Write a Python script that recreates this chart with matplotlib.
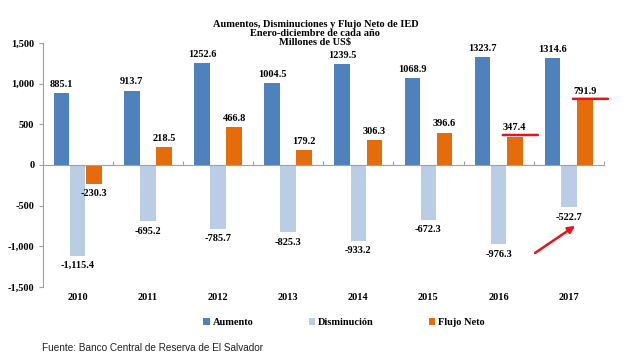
import matplotlib
matplotlib.use("Agg")
import matplotlib.pyplot as plt
import numpy as np

years = ["2010", "2011", "2012", "2013", "2014", "2015", "2016", "2017"]
aumento = [885.1, 913.7, 1252.6, 1004.5, 1239.5, 1068.9, 1323.7, 1314.6]
disminucion = [-1115.4, -695.2, -785.7, -825.3, -933.2, -672.3, -976.3, -522.7]
flujo = [-230.3, 218.5, 466.8, 179.2, 306.3, 396.6, 347.4, 791.9]
aum_labels = ["885.1", "913.7", "1252.6", "1004.5", "1239.5", "1068.9", "1323.7", "1314.6"]
dis_labels = ["-1,115.4", "-695.2", "-785.7", "-825.3", "-933.2", "-672.3", "-976.3", "-522.7"]
flu_labels = ["-230.3", "218.5", "466.8", "179.2", "306.3", "396.6", "347.4", "791.9"]
yticks = [-1500, -1000, -500, 0, 500, 1000, 1500]
ytick_labels = ["-1,500", "-1,000", "-500", "0", "500", "1,000", "1,500"]
highlight = ["2016", "2017"]

c_aum = "#4F81BD"
c_dis = "#B9CDE5"
c_flu = "#E46C0A"
serif = ["Liberation Serif", "DejaVu Serif"]

fig = plt.figure(figsize=(6.27, 3.6), dpi=100)
ax = fig.add_axes([0.068, 0.203, 0.895, 0.678])

x = np.arange(len(years))
w = 0.222
gap = 0.008
xa = x - (w + gap)
xd = x
xf = x + (w + gap)
ax.bar(xa, aumento, w, color=c_aum, label="Aumento")
ax.bar(xd, disminucion, w, color=c_dis, label="Disminución")
ax.bar(xf, flujo, w, color=c_flu, label="Flujo Neto")

ax.set_xlim(-0.5, len(years) - 0.5)
ax.set_ylim(-1500, 1500)
ax.set_yticks(yticks)
ax.set_yticklabels(ytick_labels, fontfamily=serif, fontweight="bold", fontsize=7.5)
ax.tick_params(axis="y", length=3, color="#A0A0A0", pad=3)

for s in ["top", "right"]:
    ax.spines[s].set_visible(False)
ax.spines["left"].set_color("#A0A0A0")
ax.spines["bottom"].set_position(("data", 0))
ax.spines["bottom"].set_color("#A0A0A0")
ax.set_xticks(np.arange(len(years) + 1) - 0.5)
ax.set_xticklabels([])
ax.tick_params(axis="x", direction="in", length=3, color="#A0A0A0")

xtr = ax.get_xaxis_transform()
for xi, yl in zip(x, years):
    ax.text(xi, -0.045, yl, transform=xtr, ha="center", va="center",
            fontfamily=serif, fontweight="bold", fontsize=7.5)

lab_kw = dict(fontfamily=serif, fontweight="bold", fontsize=7.5, ha="center")
for xi, v, l in zip(xa, aumento, aum_labels):
    ax.annotate(l, (xi, v), xytext=(0, 3), textcoords="offset points", va="bottom", **lab_kw)
for xi, v, l in zip(xd, disminucion, dis_labels):
    ax.annotate(l, (xi, v), xytext=(0, -4), textcoords="offset points", va="top", **lab_kw)
for xi, v, l in zip(xf, flujo, flu_labels):
    if v >= 0:
        ax.annotate(l, (xi, v), xytext=(0, 3), textcoords="offset points", va="bottom", **lab_kw)
    else:
        ax.annotate(l, (xi, v), xytext=(0, -4), textcoords="offset points", va="top", **lab_kw)

# red highlight lines just above the highlighted Flujo Neto bars
for yl in highlight:
    i = years.index(yl)
    ax.annotate("", xy=(xf[i] - 0.17, flujo[i] + 20), xytext=(xf[i] + 0.33, flujo[i] + 20),
                xycoords="data", textcoords="data",
                arrowprops=dict(arrowstyle="-", color="#E8141C", lw=1.8,
                                shrinkA=0, shrinkB=0))

# arrow pointing to 2017 disminucion label
i17 = years.index("2017")
ax.annotate("", xy=(xd[i17] + 0.09, disminucion[i17] - 227),
            xytext=(xd[i17] - 0.48, disminucion[i17] - 560),
            arrowprops=dict(arrowstyle="-|>", color="#E8141C", lw=1.8,
                            mutation_scale=10, shrinkA=0, shrinkB=0))

leg = fig.legend(loc="center", bbox_to_anchor=(0.549, 0.103), ncol=3, frameon=False,
                 prop={"family": serif, "weight": "bold", "size": 7.5},
                 handlelength=0.6, handleheight=0.6, handletextpad=0.3, columnspacing=5.3)

fig.text(0.503, 0.908, "Aumentos, Disminuciones y Flujo Neto de IED\nEnero-diciembre de cada año\nMillones de US$",
         ha="center", va="center", fontfamily=serif, fontweight="bold", fontsize=7.5, linespacing=1.0)

fig.text(0.067, 0.033, "Fuente: Banco Central de Reserva de El Salvador", ha="left", va="center",
         fontfamily=["Liberation Sans", "DejaVu Sans"], fontsize=7.2, color="#222222")

fig.savefig("out.png", dpi=100)
